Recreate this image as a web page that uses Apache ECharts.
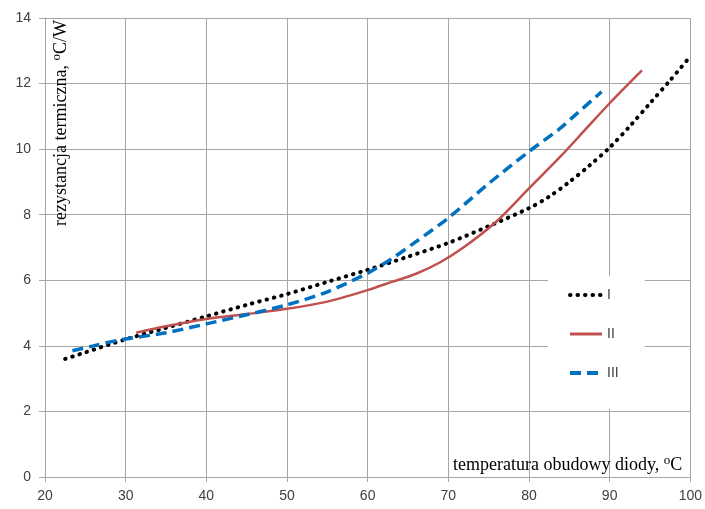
<!DOCTYPE html>
<html>
<head>
<meta charset="utf-8">
<script src="https://cdn.jsdelivr.net/npm/echarts@6/dist/echarts.min.js"></script>
<style>
  html, body { margin: 0; padding: 0; background: #fff; }
  #chart { width: 705px; height: 509px; }
</style>
</head>
<body>
<div id="chart"></div>
<script>
const seriesNames = ["I", "II", "III"];

const xI = [22.5, 25, 30, 35, 40, 45, 50, 55, 60, 65, 70, 75, 80, 82.5, 85, 87.5, 90, 92.5, 95, 97.5, 99.9];
const yI = [3.6, 3.8, 4.2, 4.55, 4.9, 5.25, 5.58, 5.95, 6.32, 6.72, 7.14, 7.65, 8.2, 8.55, 9.0, 9.5, 10.05, 10.7, 11.4, 12.1, 12.8];

const xII = [31.3, 35, 40, 45, 50, 55, 60, 63, 66, 69, 72, 76, 80, 84, 87, 90, 94];
const yII = [4.4, 4.6, 4.82, 4.97, 5.13, 5.35, 5.7, 5.95, 6.2, 6.55, 7.02, 7.8, 8.8, 9.8, 10.6, 11.4, 12.4];

const xIII = [23.4, 26, 29.3, 35, 40, 45, 50, 55, 60, 63, 66, 70, 75, 80, 83.7, 86, 89];
const yIII = [3.85, 4.0, 4.18, 4.4, 4.67, 4.95, 5.25, 5.65, 6.22, 6.66, 7.18, 7.9, 8.95, 9.93, 10.6, 11.1, 11.75];

const xTicks = [20, 100, 10];   // min, max, interval
const yTicks = [0, 14, 2];

function zip(xs, ys) {
    return xs.map((x, i) => [x, ys[i]]);
}

const gridColor = "#a6a6a6";
const labelColor = "#404040";
const serif = "'Liberation Serif', 'DejaVu Serif', serif";
const sans = "'Liberation Sans', sans-serif";

const chart = echarts.init(document.getElementById("chart"));

const option = {
    backgroundColor: "#fff",
    animation: false,
    grid: { left: 45, right: 12, top: 18, bottom: 32, containLabel: false },
    legend: {
        orient: "vertical",
        left: 548,
        top: 276,
        padding: [12, 26, 29, 20],
        backgroundColor: "#fff",
        itemWidth: 32,
        itemHeight: 14,
        itemGap: 25,
        itemStyle: { opacity: 0 },
        textStyle: { color: labelColor, fontSize: 14, fontFamily: sans },
        data: [
            { name: seriesNames[0], lineStyle: { width: 4 } },
            { name: seriesNames[1], lineStyle: { width: 3 } },
            { name: seriesNames[2], lineStyle: { width: 4 } }
        ],
        z: 10
    },
    xAxis: {
        type: "value",
        min: xTicks[0],
        max: xTicks[1],
        interval: xTicks[2],
        axisLine: { show: true, lineStyle: { color: gridColor, width: 1 } },
        axisTick: { show: true, length: 5, lineStyle: { color: gridColor } },
        axisLabel: { color: labelColor, fontSize: 14, margin: 12, fontFamily: sans },
        splitLine: { show: true, lineStyle: { color: gridColor, width: 1 } }
    },
    yAxis: {
        type: "value",
        min: yTicks[0],
        max: yTicks[1],
        interval: yTicks[2],
        axisLine: { show: true, lineStyle: { color: gridColor, width: 1 } },
        axisTick: { show: true, length: 6, lineStyle: { color: gridColor } },
        axisLabel: { color: labelColor, fontSize: 14, margin: 14, fontFamily: sans },
        splitLine: { show: true, lineStyle: { color: gridColor, width: 1 } }
    },
    graphic: [
        {
            type: "text",
            x: 453,
            y: 465,
            z: 20,
            style: {
                text: "temperatura obudowy diody, {sup|o}C",
                font: "18px " + serif,
                fill: "#000",
                lineHeight: 22,
                verticalAlign: "middle",
                rich: {
                    sup: { fontSize: 13, fontFamily: serif, fill: "#000", verticalAlign: "top", lineHeight: 13 }
                }
            }
        },
        {
            type: "text",
            x: 61,
            y: 20,
            rotation: Math.PI / 2,
            z: 20,
            style: {
                text: "rezystancja termiczna, {sup|o}C/W",
                font: "18px " + serif,
                fill: "#000",
                lineHeight: 22,
                align: "right",
                verticalAlign: "middle",
                rich: {
                    sup: { fontSize: 13, fontFamily: serif, fill: "#000", verticalAlign: "top", lineHeight: 13 }
                }
            }
        }
    ],
    series: [
        {
            name: seriesNames[0],
            type: "line",
            smooth: 0.3,
            symbol: "none",
            lineStyle: { color: "#000", width: 4, type: [0.5, 7], cap: "round" },
            itemStyle: { color: "#000" },
            data: zip(xI, yI)
        },
        {
            name: seriesNames[1],
            type: "line",
            smooth: 0.3,
            symbol: "none",
            lineStyle: { color: "#c0504d", width: 2.5 },
            itemStyle: { color: "#c0504d" },
            data: zip(xII, yII)
        },
        {
            name: seriesNames[2],
            type: "line",
            smooth: 0.3,
            symbol: "none",
            lineStyle: { color: "#0070c0", width: 3.5, type: [11, 6] },
            itemStyle: { color: "#0070c0" },
            data: zip(xIII, yIII)
        }
    ]
};

chart.setOption(option);
</script>
</body>
</html>
